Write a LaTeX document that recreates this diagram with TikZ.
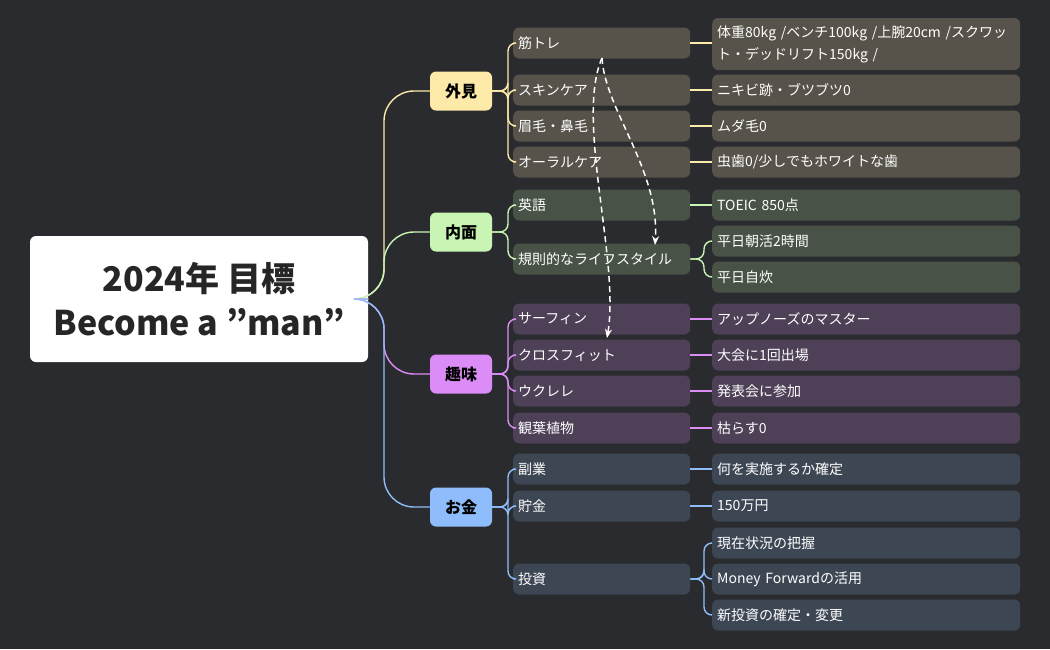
\documentclass[tikz,border=0pt]{standalone}
\usepackage{fontspec}
\setmainfont{Noto Sans CJK JP}
\usetikzlibrary{arrows.meta}
\definecolor{bg}{HTML}{2A2B2E}
\definecolor{cy}{HTML}{FDE9A8}\definecolor{cg}{HTML}{C9F5B4}
\definecolor{cp}{HTML}{DC8CF6}\definecolor{cb}{HTML}{8FBDFB}
\definecolor{fy}{HTML}{57534A}\definecolor{fg}{HTML}{485246}
\definecolor{fp}{HTML}{4D4057}\definecolor{fb}{HTML}{3D4653}
\tikzset{
 lone/.style={rounded corners=6pt,minimum width=62pt,minimum height=39pt,font=\fontsize{16}{18}\selectfont\bfseries,text=black,inner sep=0pt},
 ltwo/.style={rounded corners=6pt,minimum width=177pt,minimum height=31pt,anchor=west,font=\fontsize{14}{16}\selectfont,text=white,text width=167pt,inner sep=5pt,align=left},
 lthree/.style={rounded corners=6pt,minimum width=308pt,minimum height=31pt,anchor=west,font=\fontsize{14}{16}\selectfont,text=white,text width=298pt,inner sep=5pt,align=left},
 ln/.style={line width=1.4pt,rounded corners=8pt},
}
\begin{document}
\begin{tikzpicture}[x=1pt,y=-1pt]
\fill[bg] (0,0) rectangle (1050,649);
\useasboundingbox (0,0) rectangle (1050,649);
\node[fill=white,rounded corners=6pt,minimum width=338pt,minimum height=126pt,align=center,font=\fontsize{34}{44}\selectfont\bfseries,text=black!85] (c) at (199,299) {2024年 目標\\Become a "man"};
\node[lone,fill=cy] (a) at (461,91) {外見};
\node[lone,fill=cg] (b) at (461,232) {内面};
\node[lone,fill=cp] (h) at (461,374) {趣味};
\node[lone,fill=cb] (m) at (461,507) {お金};
\foreach \n/\col in {a/cy,b/cg,h/cp,m/cb}
 \draw[\col,line width=1.4pt,rounded corners=30pt] (c.east) -- (384,299) |- (\n.west);
% level 2
\foreach \n/\y/\t/\p/\f/\col in {
 a1/43/筋トレ/a/fy/cy, a2/90/スキンケア/a/fy/cy, a3/126/眉毛・鼻毛/a/fy/cy, a4/162/オーラルケア/a/fy/cy,
 b1/205/英語/b/fg/cg, b2/259/規則的なライフスタイル/b/fg/cg,
 h1/319/サーフィン/h/fp/cp, h2/355/クロスフィット/h/fp/cp, h3/391/ウクレレ/h/fp/cp, h4/428/観葉植物/h/fp/cp,
 m1/469/副業/m/fb/cb, m2/506/貯金/m/fb/cb, m3/579/投資/m/fb/cb}{
 \node[ltwo,fill=\f] (\n) at (513,\y) {\t};
 \draw[ln,\col] (\p.east) -- (508,\y |- \p.east) |- (\n.west);
}
% level 3
\foreach \n/\y/\t/\p/\f/\col in {
 a2x/90/ニキビ跡・ブツブツ0/a2/fy/cy, a3x/126/ムダ毛0/a3/fy/cy, a4x/162/{虫歯0/少しでもホワイトな歯}/a4/fy/cy,
 b1x/205/TOEIC 850点/b1/fg/cg,
 h1x/319/アップノーズのマスター/h1/fp/cp, h2x/355/大会に1回出場/h2/fp/cp, h3x/391/発表会に参加/h3/fp/cp, h4x/428/枯らす0/h4/fp/cp,
 m1x/469/何を実施するか確定/m1/fb/cb, m2x/506/150万円/m2/fb/cb}{
 \node[lthree,fill=\f] (\n) at (712,\y) {\t};
 \draw[ln,\col] (\p.east) -- (\n.west);
}
\node[lthree,fill=fy,minimum height=52pt,font=\fontsize{14}{22}\selectfont] (a1x) at (712,44) {体重80kg /ベンチ100kg /上腕20cm /スクワッ\\ト・デッドリフト150kg /};
\draw[ln,cy] (a1.east) -- (a1x.west |- a1.east);
\foreach \n/\y/\t/\p/\f/\col in {
 b2x/241/平日朝活2時間/b2/fg/cg, b2y/277/平日自炊/b2/fg/cg,
 m3x/543/現在状況の把握/m3/fb/cb, m3y/579/Money Forwardの活用/m3/fb/cb, m3z/615/新投資の確定・変更/m3/fb/cb}{
 \node[lthree,fill=\f] (\n) at (712,\y) {\t};
 \draw[ln,\col] (\p.east) -- (704,\y |- \p.east) |- (\n.west);
}
% dashed relations
\coordinate (s) at (602,58);
\draw[white,line width=1.5pt,dash pattern=on 6pt off 4pt,-{Stealth[length=9pt,width=7pt]}] (s) .. controls (605,110) and (660,170) .. (655,245);
\draw[white,line width=1.5pt,dash pattern=on 6pt off 4pt,-{Stealth[length=9pt,width=7pt]}] (s) .. controls (575,120) and (620,260) .. (607,338);
\end{tikzpicture}
\end{document}
